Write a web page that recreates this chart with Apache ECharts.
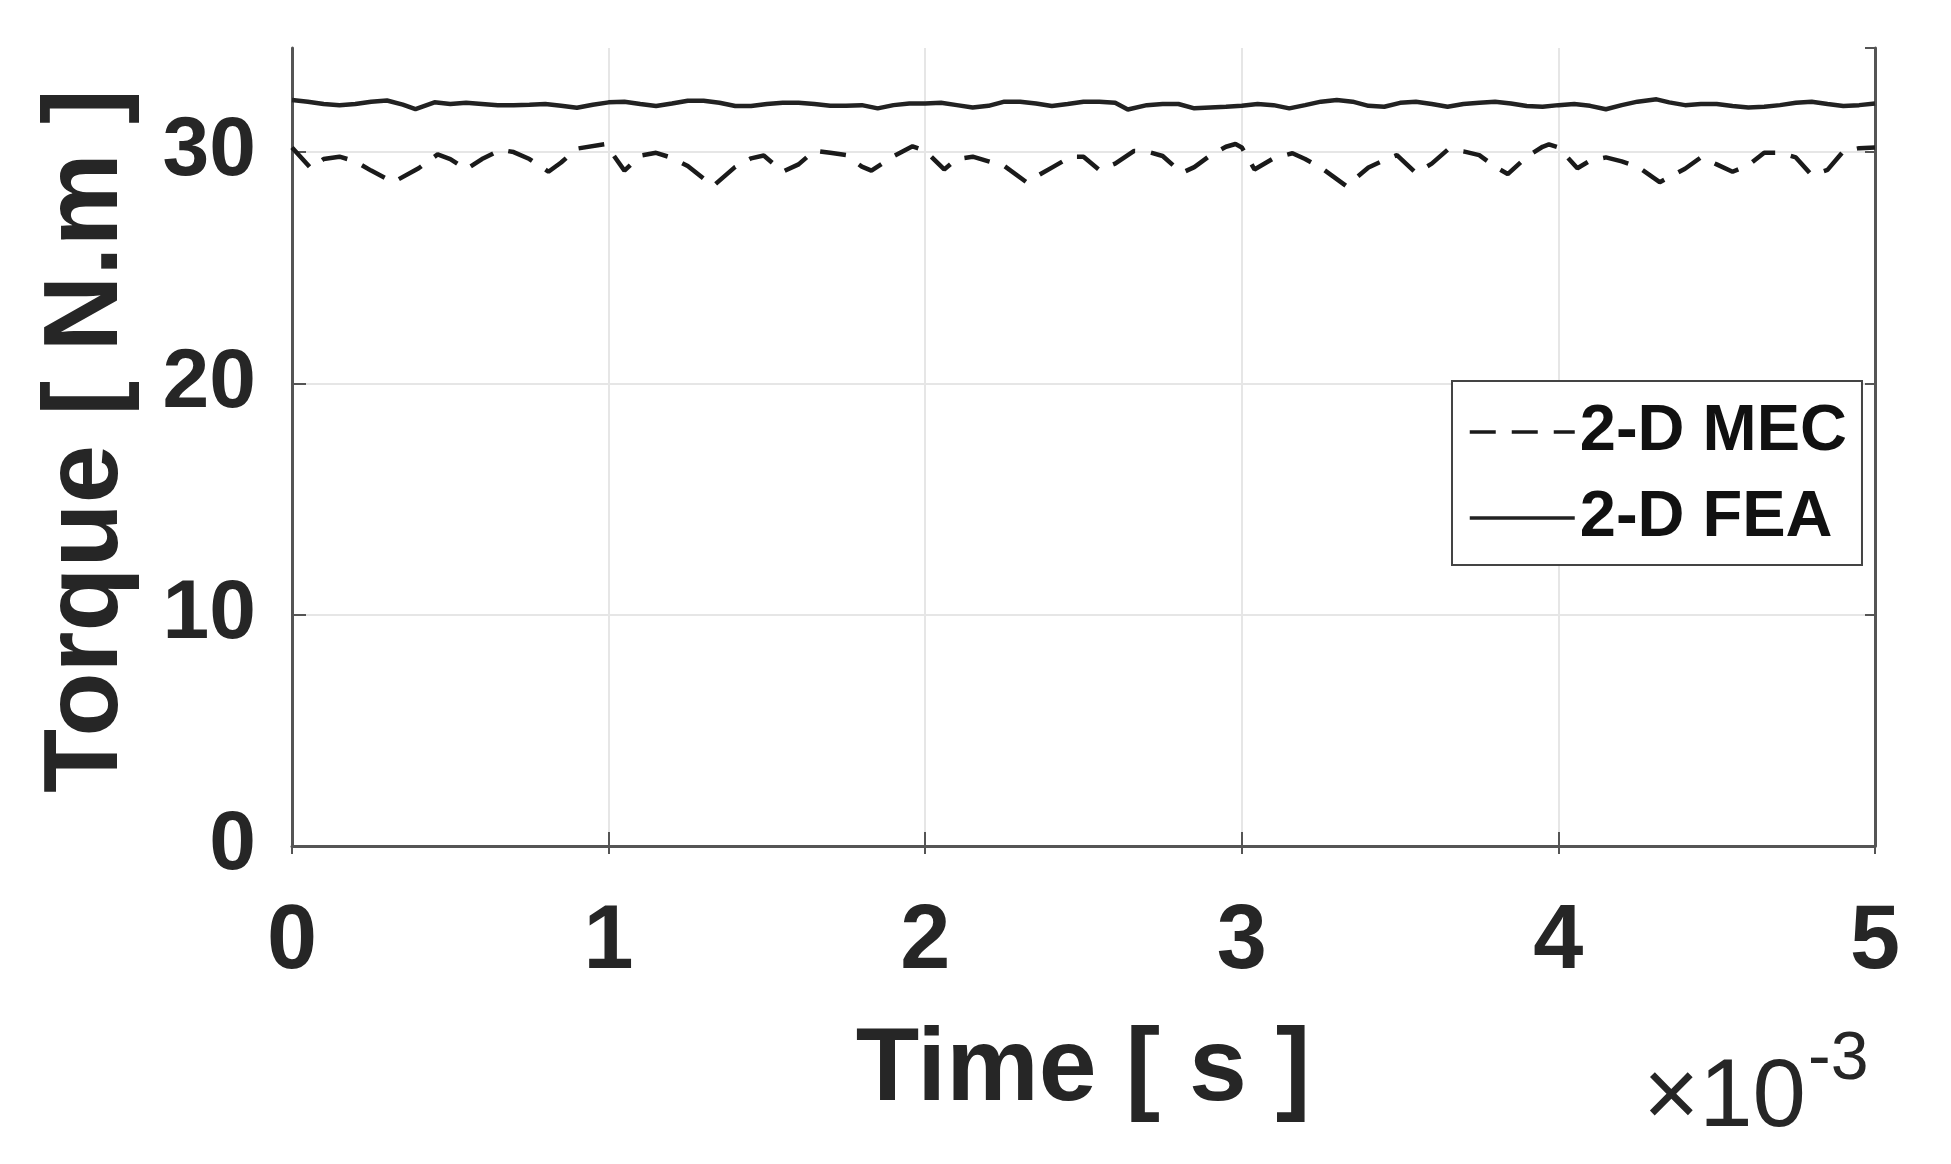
<!DOCTYPE html>
<html>
<head>
<meta charset="utf-8">
<script src="https://cdn.jsdelivr.net/npm/echarts@6/dist/echarts.min.js"></script>
<style>
html,body{margin:0;padding:0;background:#fff;}
#chart{width:1951px;height:1164px;}
</style>
</head>
<body>
<div id="chart"></div>
<script>
// Time in units of 1e-3 s
const mecTime = [0.00,0.06,0.10,0.15,0.20,0.25,0.32,0.40,0.46,0.50,0.55,0.60,0.66,0.70,0.75,0.81,0.85,0.90,0.99,
  1.05,1.10,1.15,1.20,1.25,1.33,1.40,1.45,1.49,1.55,1.60,1.65,1.70,1.75,1.80,1.83,1.90,1.96,
  2.00,2.06,2.10,2.15,2.20,2.25,2.32,2.40,2.46,2.50,2.55,2.60,2.66,2.70,2.75,2.81,2.85,2.90,2.95,2.98,
  3.00,3.04,3.10,3.16,3.20,3.25,3.33,3.40,3.45,3.49,3.55,3.60,3.65,3.70,3.75,3.80,3.84,3.90,3.95,3.97,
  4.00,4.06,4.10,4.15,4.20,4.25,4.32,4.40,4.45,4.50,4.55,4.60,4.65,4.70,4.75,4.80,4.85,4.90,4.95,5.00];
const mecTorque = [30.2,29.3,29.7,29.8,29.6,29.2,28.7,29.3,29.9,29.7,29.25,29.7,30.1,30.0,29.7,29.15,29.55,30.15,30.35,
  29.2,29.85,29.97,29.75,29.4,28.53,29.36,29.73,29.85,29.15,29.47,30.06,29.97,29.87,29.37,29.2,29.82,30.25,
  30.06,29.25,29.7,29.8,29.6,29.4,28.7,29.33,29.8,29.8,29.23,29.5,30.05,30.03,29.83,29.1,29.35,29.85,30.23,30.35,
  30.2,29.25,29.73,29.95,29.7,29.33,28.53,29.33,29.65,29.87,29.1,29.5,30.1,30.03,29.87,29.37,29.05,29.8,30.23,30.33,
  30.2,29.3,29.63,29.77,29.6,29.37,28.7,29.28,29.77,29.47,29.15,29.43,29.97,29.97,29.77,29.0,29.23,30.03,30.17,30.2];

const feaTime = [0.00,0.05,0.10,0.15,0.20,0.25,0.30,0.35,0.39,0.45,0.50,0.55,0.60,0.65,0.70,0.75,0.80,0.85,0.90,0.95,
  1.00,1.05,1.10,1.15,1.20,1.25,1.30,1.35,1.40,1.45,1.50,1.55,1.60,1.65,1.70,1.75,1.80,1.85,1.90,1.95,
  2.00,2.05,2.10,2.15,2.20,2.25,2.30,2.35,2.40,2.45,2.50,2.55,2.60,2.64,2.70,2.75,2.80,2.85,2.90,2.95,
  3.00,3.05,3.10,3.15,3.20,3.25,3.30,3.35,3.40,3.45,3.50,3.55,3.60,3.65,3.70,3.75,3.80,3.85,3.90,3.95,
  4.00,4.05,4.10,4.15,4.20,4.25,4.31,4.35,4.40,4.45,4.50,4.55,4.60,4.65,4.70,4.75,4.80,4.85,4.90,4.95,5.00];
const feaTorque = [32.25,32.18,32.08,32.03,32.08,32.18,32.23,32.05,31.86,32.15,32.08,32.13,32.08,32.03,32.03,32.05,32.08,32.0,31.92,32.05,
  32.15,32.18,32.08,31.99,32.1,32.22,32.22,32.13,31.99,31.99,32.08,32.13,32.13,32.08,32.0,32.0,32.03,31.89,32.03,32.1,
  32.1,32.13,32.03,31.93,32.0,32.18,32.18,32.1,31.99,32.08,32.18,32.18,32.13,31.84,32.03,32.08,32.08,31.89,31.93,31.96,
  32.0,32.08,32.03,31.89,32.03,32.18,32.25,32.18,32.0,31.96,32.13,32.18,32.08,31.96,32.08,32.13,32.18,32.1,31.99,31.96,
  32.03,32.08,32.0,31.85,32.03,32.18,32.28,32.15,32.03,32.08,32.08,31.99,31.93,31.96,32.03,32.13,32.18,32.08,31.99,32.03,32.1];

const xTicks = [0,1,2,3,4,5];
const yTicks = [0,10,20,30];
const seriesNames = ['2-D MEC','2-D FEA'];

const chart = echarts.init(document.getElementById('chart'), null, {renderer:'canvas'});
const pairs = (t, v) => t.map((x, i) => [x, v[i]]);
const axisColor = '#555555';
const textColor = '#262626';
const bold = 'Liberation Sans, Arial, Helvetica, sans-serif';

chart.setOption({
  animation: false,
  backgroundColor: '#ffffff',
  grid: {left: 292, right: 76, top: 48, bottom: 318, containLabel: false},
  xAxis: [{
    type: 'value', min: xTicks[0], max: xTicks[xTicks.length-1], interval: 1, position: 'bottom',
    axisLine: {show: true, onZero: false, lineStyle: {color: axisColor, width: 3}},
    axisTick: {show: true, inside: true, length: 14, lineStyle: {color: axisColor, width: 2}},
    splitLine: {show: true, lineStyle: {color: '#e6e6e6', width: 2}},
    axisLabel: {show: true, margin: 52, fontSize: 90, fontWeight: 'bold', color: textColor,
      fontFamily: '"Liberation Sans Narrow", "Liberation Sans", Arial, sans-serif',
      formatter: v => xTicks.includes(v) ? String(v) : ''}
  },{
    type: 'value', min: 0, max: 5, interval: 1, position: 'top',
    axisLine: {show: false},
    axisTick: {show: true, inside: true, length: 8, lineStyle: {color: axisColor, width: 2}},
    splitLine: {show: false}, axisLabel: {show: false}
  }],
  yAxis: [{
    type: 'value', min: 0, max: 34.5, interval: 10, position: 'left',
    axisLine: {show: true, onZero: false, lineStyle: {color: axisColor, width: 3}},
    axisTick: {show: true, inside: true, length: 14, lineStyle: {color: axisColor, width: 2}},
    splitLine: {show: true, showMaxLine: false, lineStyle: {color: '#e6e6e6', width: 2}},
    axisLabel: {show: true, margin: 36, fontSize: 84, fontWeight: 'bold', color: textColor, fontFamily: bold,
      showMaxLabel: false,
      formatter: v => yTicks.includes(v) ? String(v) : ''}
  },{
    type: 'value', min: 0, max: 34.5, interval: 10, position: 'right',
    axisLine: {show: true, onZero: false, lineStyle: {color: axisColor, width: 3}},
    axisTick: {show: true, inside: true, length: 10, lineStyle: {color: axisColor, width: 2}},
    splitLine: {show: false}, axisLabel: {show: false}
  }],
  legend: {
    orient: 'vertical', left: 1452, top: 381,
    padding: [18, 15, 14, 16], itemGap: 20, itemWidth: 105, itemHeight: 20,
    borderColor: '#444', borderWidth: 2, borderRadius: 0, backgroundColor: '#fff',
    itemStyle: {opacity: 0},
    lineStyle: {width: 3.5},
    textStyle: {fontSize: 65, fontWeight: 'bold', color: '#111', fontFamily: bold, lineHeight: 66},
    data: seriesNames
  },
  series: [{
    name: seriesNames[0], type: 'line', xAxisIndex: 0, yAxisIndex: 0,
    data: pairs(mecTime, mecTorque), showSymbol: false, symbol: 'none',
    lineStyle: {color: '#1a1a1a', width: 4.5, type: [26, 16]}, itemStyle: {color: '#1a1a1a'}
  },{
    name: seriesNames[1], type: 'line', xAxisIndex: 0, yAxisIndex: 0,
    data: pairs(feaTime, feaTorque), showSymbol: false, symbol: 'none',
    lineStyle: {color: '#222222', width: 4.5, type: 'solid'}, itemStyle: {color: '#222222'}
  }],
  graphic: [
    {type: 'text', x: 88, y: 441, rotation: Math.PI/2,
      style: {text: 'Torque [ N.m ]', font: 'bold 105px ' + bold, fill: textColor, align: 'center', verticalAlign: 'middle'}},
    {type: 'text', x: 1083, y: 1071,
      style: {text: 'Time [ s ]', font: 'bold 104px ' + bold, fill: textColor, align: 'center', verticalAlign: 'middle'}},
    {type: 'text', x: 1806, y: 1100,
      style: {text: '\u00d710', font: '96px ' + bold, fill: textColor, align: 'right', verticalAlign: 'middle'}},
    {type: 'text', x: 1808, y: 1060,
      style: {text: '-3', font: '68px ' + bold, fill: textColor, align: 'left', verticalAlign: 'middle'}}
  ]
});
</script>
</body>
</html>
